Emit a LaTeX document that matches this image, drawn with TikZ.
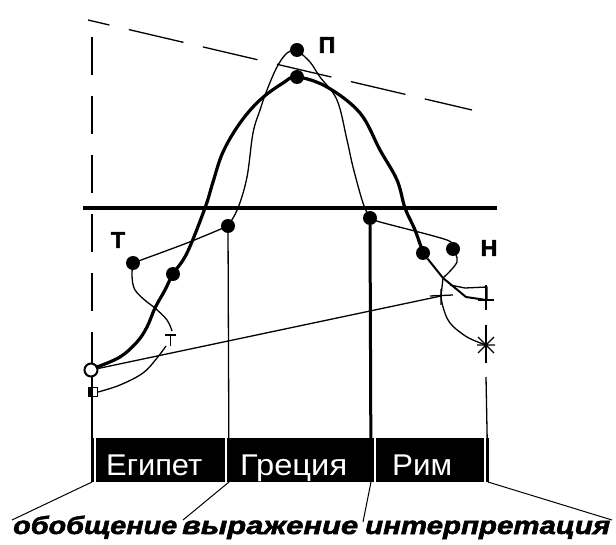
\documentclass[tikz,border=0pt]{standalone}
\usepackage{fontspec}
\setmainfont{Liberation Sans}
\newfontfamily\heavyfont[FakeBold=2.5]{Liberation Sans Bold}
\newfontfamily\heavyitfont[FakeBold=2]{Liberation Sans Bold Italic}
\begin{document}
\begin{tikzpicture}[x=1pt,y=-1pt,
  thickc/.style={line width=3.2pt, line join=round, line cap=round},
  midc/.style={line width=2pt, line join=round},
  thinc/.style={line width=1.3pt, line join=round},
  leader/.style={line width=1pt},
  dotc/.style={circle, fill=black, inner sep=0pt, minimum size=14pt},
  lbl/.style={font=\fontsize{23}{23}\heavyfont, inner sep=0pt},
  bandtxt/.style={font=\fontsize{30}{30}\selectfont, text=white, anchor=base west, inner sep=0pt},
  captxt/.style={font=\fontsize{25}{25}\heavyitfont, anchor=base west, inner sep=0pt},
  ]
\useasboundingbox (0,0) rectangle (616,545);

% named points
\coordinate (tl) at (88,20);
\coordinate (tr) at (472,110);
\coordinate (hl) at (83,208);
\coordinate (hr) at (497,208);
\coordinate (lvtop) at (92,37);
\coordinate (lvmid) at (92,363);
\coordinate (lvlow) at (92,377);
\coordinate (b1) at (92,482);
\coordinate (b2) at (229,482);
\coordinate (b3) at (371,482);
\coordinate (b4) at (488,482);
\coordinate (c1) at (12,520);
\coordinate (c2) at (183,520);
\coordinate (c3) at (363,522);
\coordinate (c4) at (612,520);
\coordinate (X) at (443,278);
\coordinate (cross) at (441,296);
\coordinate (plus) at (486,300);
\coordinate (star) at (486,345);
\coordinate (tmark) at (170.5,335);

% band
\fill (92,438) rectangle (489,482);
\draw[white, line width=1.6pt] (95,438) -- (95,482);
\draw[white, line width=2pt] (226,438) -- (226,482);
\draw[white, line width=2pt] (374.5,438) -- (374.5,482);
\draw[white, line width=2pt] (484.5,438) -- (484.5,482);
\node[bandtxt] (eg) at (106,475) {\resizebox{96pt}{\height}{Египет}};
\node[bandtxt] (gr) at (240,475) {\resizebox{107pt}{\height}{Греция}};
\node[bandtxt] (rim) at (392,475) {\resizebox{60pt}{\height}{Рим}};

% top dashed line and left dashed vertical
\draw[thinc, dash pattern=on 56pt off 20pt, dash phase=34pt] (tl) -- (tr);
\draw[thinc, dash pattern=on 38pt off 21pt] (lvtop) -- (lvmid);
\draw[thinc] (lvlow) -- (b1);

% horizontal thick line
\draw[thickc, line cap=butt] (hl) -- (hr);

% dots
\node[dotc] (P) at (297,50) {};
\node[dotc] (Pt) at (297,77) {};
\node[dotc] (T) at (133,263) {};
\node[dotc] (G) at (228,226) {};
\node[dotc] (R) at (370,218) {};
\node[dotc] (H1) at (423,253) {};
\node[dotc] (H2) at (453,249) {};
\node[dotc] (E) at (173,274) {};
\node[circle, draw, line width=2pt, fill=white, minimum size=13pt, inner sep=0pt] (O) at (91,370) {};
\node[draw, line width=1.2pt, minimum size=9pt, inner sep=0pt,
      path picture={\fill (path picture bounding box.south west) rectangle (path picture bounding box.north);}] (S) at (93,392) {};

% verticals
\draw[thinc] (G) -- (b2);
\draw[line width=3pt] (R) -- (b3);
\draw[thinc] (486,285) -- (486,310);
\draw[thinc] (486,325) -- (486,363);
\draw[thinc] (486,377) -- (b4);

% leaders
\draw[leader] (b1) -- (c1);
\draw[leader] (b2) -- (c2);
\draw[leader] (b3) -- (c3);
\draw[leader] (b4) -- (c4);

% thick curve
\draw[thickc] plot[smooth, tension=0.6] coordinates {(97,367) (120,357) (137,342) (147,327) (155,308) (165,290) (E) (187,253) (205,208) (213,182) (223,152) (240,123) (260,100) (283,83) (Pt) (327,87) (360,113) (380,150) (397,180) (405,208) (415,230) (H1)};
\draw[midc] (H1) -- (X) -- (466,297) -- (plus);

% thin curve through П
\draw[thinc] plot[smooth, tension=0.6] coordinates {(T) (132,276) (135,290) (147,302) (155,308) (167,320) (172,331)};
\draw[thinc] plot[smooth, tension=0.5] coordinates {(T) (187,243) (G)};
\draw[thinc] plot[smooth, tension=0.6] coordinates {(G) (238,208) (247,177) (253,133) (260,110) (267,90) (277,67) (287,53) (P)};
\draw[thinc] plot[smooth, tension=0.6] coordinates {(P) (310,62) (320,77) (337,100) (347,140) (353,167) (363,203) (R)};
\draw[thinc] plot[smooth, tension=0.5] coordinates {(R) (380,222) (447,240) (H2)};
\draw[thinc] plot[smooth, tension=0.6] coordinates {(H2) (457,262) (X)};
\draw[thinc] (X) -- (cross);
\draw[thinc] plot[smooth, tension=0.6] coordinates {(cross) (443,307) (450,323) (467,337) (star)};

% T marks and symbols
\draw[thinc] (165,335) -- (176,335) (tmark) -- (170.5,346);
\draw[thinc] (O) -- (cross);
\draw[thinc] plot[smooth, tension=0.6] coordinates {(S.east) (120,385) (143,373) (157,358) (166,346)};
\draw[thinc] (430,296) -- (453,295) (441,289) -- (441,305);
\draw[thinc] (450,285) -- (465,288) -- (487,287) -- (487,300);
\draw[line width=1.6pt] (478,300) -- (494,300) (plus) ++(0,-8) -- ++(0,16);
\draw[thinc] (star) ++(-8,-8) -- ++(16,16) (star) ++(-8,8) -- ++(16,-16) (star) ++(-9,0) -- ++(18,0);

% labels
\node[lbl] (lP) at (327,45) {П};
\node[lbl] (lT) at (118,240) {Т};
\node[lbl] (lH) at (489,248) {Н};

% caption words
\node[captxt] (w1) at (13,534) {\resizebox{164pt}{\height}{обобщение}};
\node[captxt] (w2) at (182,534) {\resizebox{176pt}{\height}{выражение}};
\node[captxt] (w3) at (365,534) {\resizebox{245pt}{\height}{интерпретация}};
\end{tikzpicture}
\end{document}
